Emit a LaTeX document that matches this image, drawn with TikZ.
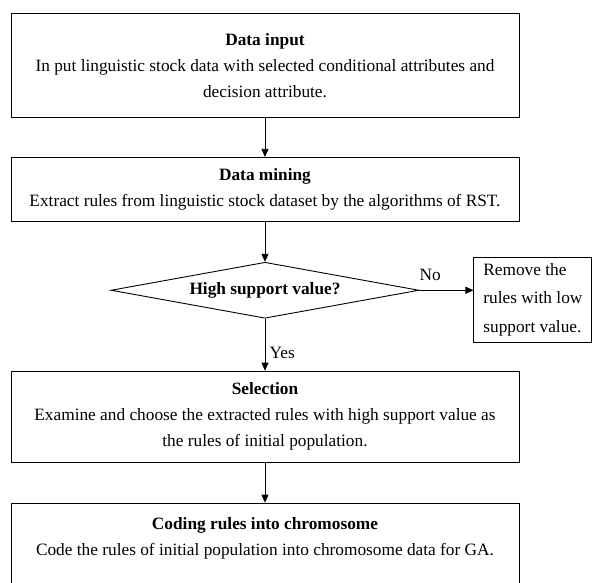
\documentclass[tikz,border=0pt]{standalone}
\usepackage{fontspec}
\setmainfont{Liberation Serif}
\usetikzlibrary{arrows.meta,positioning,shapes.geometric}

\begin{document}
\begin{tikzpicture}[node distance=40pt, font=\fontsize{17.3}{26}\selectfont, box/.style={draw,line width=0.9pt,align=center,minimum width=508pt,inner sep=6pt}, dia/.style={draw,line width=0.9pt,diamond,aspect=5.5,minimum width=308pt,minimum height=56pt,inner sep=1pt,font=\fontsize{17.3}{26}\selectfont\bfseries}, note/.style={draw,line width=0.9pt,align=left,minimum width=118pt,minimum height=81pt,inner sep=6pt,font=\fontsize{17.3}{28.5}\selectfont}, >={Triangle[length=8pt,width=7pt]}]
\useasboundingbox (-265pt,13pt) rectangle (328pt,-569pt);
\node[box,minimum height=104pt,anchor=north] (A) at (0,0) {\textbf{Data input}\\ In put linguistic stock data with selected conditional attributes and\\ decision attribute.};
\node[box,minimum height=64pt,below=39pt of A] (B) {\textbf{Data mining}\\ Extract rules from linguistic stock dataset by the algorithms of RST.};
\node[dia,below=40pt of B] (D) {High support value?};
\node[note,right=54pt of D,yshift=-9.5pt] (R) {Remove the\\ rules with low\\ support value.};
\node[box,minimum height=91pt,below=52pt of D] (S) {\textbf{Selection}\\ Examine and choose the extracted rules with high support value as\\ the rules of initial population.};
\node[box,text depth=60pt,inner ysep=14pt,below=40pt of S] (C) {\textbf{Coding rules into chromosome}\\ Code the rules of initial population into chromosome data for GA.};
\draw[->,line width=0.8pt] (A) -- (B);
\draw[->,line width=0.8pt] (B) -- (D);
\draw[->,line width=0.8pt] (D) -- node[above=6pt,pos=0.2]{No} (R.west |- D.east);
\draw[->,line width=0.8pt] (D) -- node[right=1pt,pos=0.65]{Yes} (S);
\draw[->,line width=0.8pt] (S) -- (C);
\end{tikzpicture}
\end{document}
